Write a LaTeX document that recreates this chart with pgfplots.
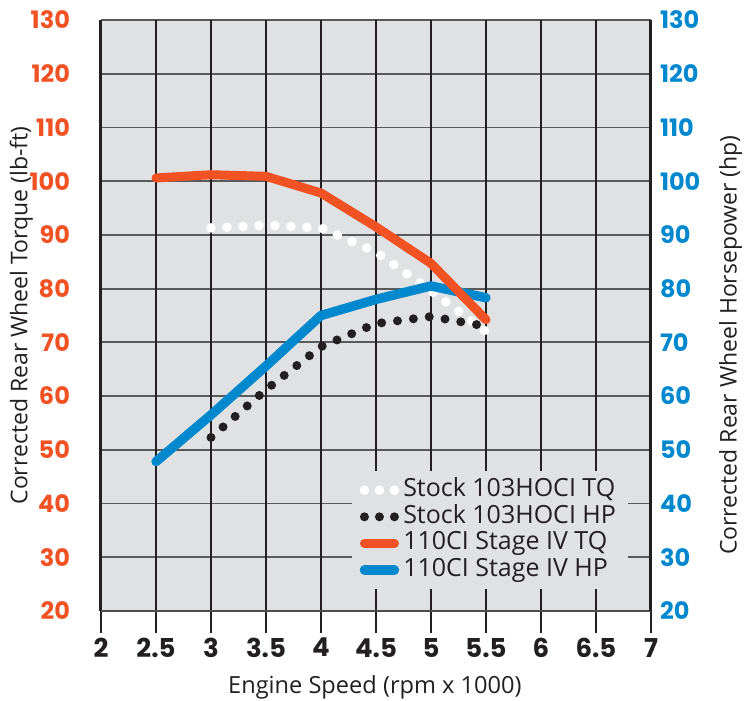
\documentclass[border=0pt]{standalone}
\usepackage{pgfplots}
\pgfplotsset{compat=1.18}
\usepackage{fontspec}
\setmainfont{Open Sans}
\newfontfamily\tickfont{Poppins}
\definecolor{bggray}{RGB}{224,225,227}
\definecolor{tqorange}{RGB}{241,82,35}
\definecolor{hpblue}{RGB}{0,136,206}
\definecolor{tdark}{RGB}{35,31,32}
\begin{document}
\begin{tikzpicture}
\useasboundingbox (-50.5pt,-45pt) rectangle (321.5pt,305.5pt);
% axis 1: background, horizontal grid, x ticks, left labels
\begin{axis}[
  at={(0,0)}, anchor=south west,
  scale only axis, width=275pt, height=295.5pt,
  xmin=2, xmax=7, ymin=20, ymax=130,
  xtick={2,2.5,...,7}, ytick={20,30,...,130},
  axis x line*=bottom, axis y line*=left,
  x axis line style={line width=1pt, draw=black!70},
  y axis line style={line width=1.5pt, draw=tdark},
  axis background/.style={fill=bggray},
  ymajorgrids=true,
  major grid style={line width=0.9pt, draw=black!65},
  tick align=outside,
  major tick length=11pt,
  xtick style={line width=1.3pt, draw=tdark},
  ytick style={draw=none},
  /pgf/number format/assume math mode=true,
  xticklabel style={font=\tickfont\bfseries\fontsize{13}{14}\selectfont, text=tdark, yshift=1pt},
  yticklabel style={font=\tickfont\bfseries\fontsize{12}{14}\selectfont, text=tqorange, xshift=-1pt},
  every axis y label/.style={at={(axis description cs:-0.145,0.5)}, rotate=90, anchor=center, font=\fontsize{11.5}{13}\selectfont, text=tdark},
  every axis x label/.style={at={(axis description cs:0.498,-0.130)}, anchor=center, font=\fontsize{11.8}{13}\selectfont, text=tdark},
  ylabel={Corrected Rear Wheel Torque (lb-ft)},
  xlabel={Engine Speed (rpm x 1000)},
]
\end{axis}
% axis 2: vertical grid, curves, right labels, legend
\begin{axis}[
  at={(0,0)}, anchor=south west,
  scale only axis, width=275pt, height=295.5pt,
  xmin=2, xmax=7, ymin=20, ymax=130,
  xtick={2,2.5,...,7}, ytick={20,30,...,130},
  xticklabels={},
  axis x line*=bottom, axis y line*=right,
  x axis line style={line width=1pt, draw=black!70},
  y axis line style={line width=1.5pt, draw=tdark},
  xmajorgrids=true,
  major grid style={line width=1.3pt, draw=tdark},
  xtick style={draw=none}, ytick style={draw=none},
  /pgf/number format/assume math mode=true,
  yticklabel style={font=\tickfont\bfseries\fontsize{12}{14}\selectfont, text=hpblue, xshift=1pt},
  every axis y label/.style={at={(axis description cs:1.145,0.45)}, rotate=90, anchor=center, font=\fontsize{11.5}{13}\selectfont, text=tdark},
  ylabel={Corrected Rear Wheel Horsepower (hp)},
  legend image code/.code={\draw[#1] (0pt,0pt) -- (15.01pt,0pt);},
  legend cell align=left,
  legend style={at={(axis description cs:0.455,0.036)}, anchor=south west,
    fill=bggray, draw=none, font=\fontsize{12.5}{13}\selectfont, text=tdark,
    row sep=0pt, inner xsep=4pt, inner ysep=3pt,
    nodes={inner xsep=2pt, inner ysep=0.9pt, text height=9pt, text depth=2.5pt}},
]
\addplot[forget plot, white, line width=4.8pt, line cap=round, dash pattern=on 0pt off 8pt]
  coordinates {(3,91.3) (3.5,91.8) (4,91.3) (4.5,86.8) (5,79.6) (5.5,72.0)};
\addplot[forget plot, tdark, line width=4.5pt, line cap=round, dash pattern=on 0pt off 8pt]
  coordinates {(3,52.3) (3.5,61.2) (4,69.2) (4.5,73.5) (5,74.8) (5.5,73.0)};
\addplot[forget plot, hpblue, line width=4.7pt, line cap=round, line join=round]
  coordinates {(2.5,47.8) (3,56.5) (3.5,65.6) (4,75.0) (4.5,78.0) (5,80.5) (5.5,78.3)};
\addplot[forget plot, tqorange, line width=4.5pt, line cap=round, line join=round]
  coordinates {(2.5,100.6) (3,101.2) (3.5,100.9) (4,97.8) (4.5,91.5) (5,84.7) (5.5,74.2)};
\addlegendimage{white, line width=4.8pt, line cap=round, dash pattern=on 0pt off 7.5pt}
\addlegendentry{Stock 103HOCI TQ}
\addlegendimage{tdark, line width=4.5pt, line cap=round, dash pattern=on 0pt off 7.5pt}
\addlegendentry{Stock 103HOCI HP}
\addlegendimage{tqorange, line width=4.5pt, line cap=round}
\addlegendentry{110CI Stage IV TQ}
\addlegendimage{hpblue, line width=4.7pt, line cap=round}
\addlegendentry{110CI Stage IV HP}
\end{axis}
\end{tikzpicture}
\end{document}
